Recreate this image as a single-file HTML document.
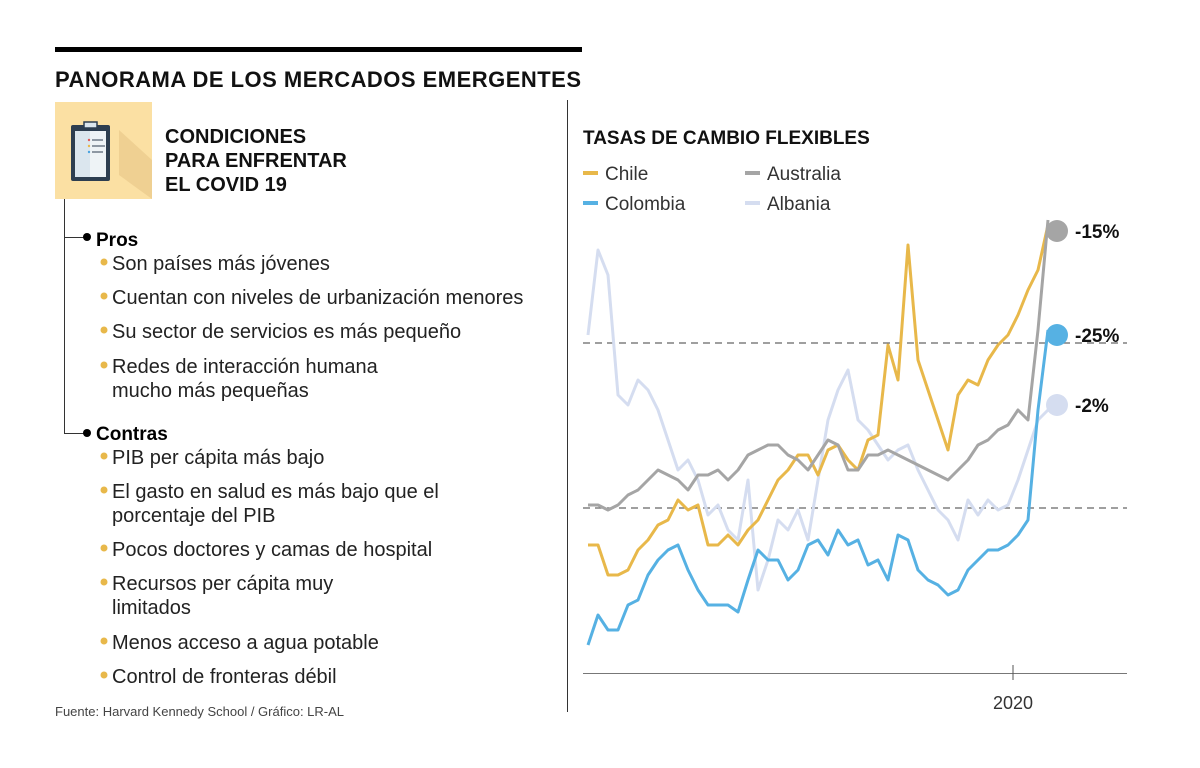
<!DOCTYPE html>
<html><head><meta charset="utf-8">
<style>
html,body{margin:0;padding:0;background:#fff;}
svg{display:block;font-family:"Liberation Sans",sans-serif;}
</style></head>
<body>
<svg id="chart" width="1200" height="768" viewBox="0 0 1200 768">
  <rect x="55" y="47" width="527" height="5" fill="#000"/>
  <text x="55" y="87" font-size="22" font-weight="bold" fill="#111" textLength="526">PANORAMA DE LOS MERCADOS EMERGENTES</text>
  <line x1="567.5" y1="100" x2="567.5" y2="712" stroke="#333" stroke-width="1"/>

  <g>
    <rect x="55" y="102" width="97" height="97" fill="#fbe0a3"/>
    <polygon points="119,175 152,199 152,160 119,130" fill="#e9c98a" opacity="0.7"/>
    <rect x="71" y="125" width="39" height="56" rx="2" fill="#2d3e50"/>
    <rect x="75" y="131" width="31" height="46" fill="#dbe6ee"/>
    <rect x="90" y="131" width="16" height="46" fill="#eef3f6"/>
    <rect x="84" y="122" width="13" height="6" fill="#dbe6ee" stroke="#2d3e50" stroke-width="1.5"/>
    <circle cx="89" cy="140" r="1.2" fill="#e05a5a"/><line x1="92" y1="140" x2="103" y2="140" stroke="#2d3e50" stroke-width="1"/>
    <circle cx="89" cy="146" r="1.2" fill="#e8b84a"/><line x1="92" y1="146" x2="105" y2="146" stroke="#2d3e50" stroke-width="1"/>
    <circle cx="89" cy="152" r="1.2" fill="#4aa3df"/><line x1="92" y1="152" x2="103" y2="152" stroke="#2d3e50" stroke-width="1"/>
  </g>
  <g font-size="20" font-weight="bold" fill="#111">
    <text x="165" y="143">CONDICIONES</text>
    <text x="165" y="167">PARA ENFRENTAR</text>
    <text x="165" y="191">EL COVID 19</text>
  </g>

  <g stroke="#333" stroke-width="1" fill="none">
    <path d="M64.5,199 V433.5 H84"/>
    <path d="M64.5,237.5 H84"/>
  </g>
  <circle cx="87" cy="237" r="4" fill="#000"/>
  <circle cx="87" cy="433" r="4" fill="#000"/>
  <text x="96" y="246" font-size="19" font-weight="bold">Pros</text>
  <text x="96" y="440" font-size="19" font-weight="bold">Contras</text>

  <g font-size="20" fill="#222">
    <circle cx="104" cy="262" r="3.5" fill="#e8b84a"/><text x="112" y="270">Son países más jóvenes</text>
    <circle cx="104" cy="296" r="3.5" fill="#e8b84a"/><text x="112" y="304">Cuentan con niveles de urbanización menores</text>
    <circle cx="104" cy="330" r="3.5" fill="#e8b84a"/><text x="112" y="338">Su sector de servicios es más pequeño</text>
    <circle cx="104" cy="365" r="3.5" fill="#e8b84a"/><text x="112" y="373">Redes de interacción humana</text>
    <text x="112" y="397">mucho más pequeñas</text>
  </g>
  <g font-size="20" fill="#222">
    <circle cx="104" cy="456" r="3.5" fill="#e8b84a"/><text x="112" y="464">PIB per cápita más bajo</text>
    <circle cx="104" cy="490" r="3.5" fill="#e8b84a"/><text x="112" y="498">El gasto en salud es más bajo que el</text>
    <text x="112" y="522">porcentaje del PIB</text>
    <circle cx="104" cy="548" r="3.5" fill="#e8b84a"/><text x="112" y="556">Pocos doctores y camas de hospital</text>
    <circle cx="104" cy="582" r="3.5" fill="#e8b84a"/><text x="112" y="590">Recursos per cápita muy</text>
    <text x="112" y="614">limitados</text>
    <circle cx="104" cy="641" r="3.5" fill="#e8b84a"/><text x="112" y="649">Menos acceso a agua potable</text>
    <circle cx="104" cy="675" r="3.5" fill="#e8b84a"/><text x="112" y="683">Control de fronteras débil</text>
  </g>
  <text x="55" y="716" font-size="13" fill="#444">Fuente: Harvard Kennedy School / Gráfico: LR-AL</text>

  <text x="583" y="144" font-size="19" font-weight="bold" fill="#111">TASAS DE CAMBIO FLEXIBLES</text>
  <g font-size="19" fill="#333">
    <g><line x1="583" y1="173" x2="598" y2="173" stroke="#e8b84a" stroke-width="4"/><text x="605" y="180">Chile</text></g>
    <g><line x1="745" y1="173" x2="760" y2="173" stroke="#a5a5a5" stroke-width="4"/><text x="767" y="180">Australia</text></g>
    <g><line x1="583" y1="203" x2="598" y2="203" stroke="#56b1e3" stroke-width="4"/><text x="605" y="210">Colombia</text></g>
    <g><line x1="745" y1="203" x2="760" y2="203" stroke="#d5ddf0" stroke-width="4"/><text x="767" y="210">Albania</text></g>
  </g>

  <g id="plot"></g>
</svg>
<script>
const chile = [125,125,95,95,100,120,130,145,150,170,160,165,125,125,135,125,140,150,170,190,200,215,215,195,220,225,210,200,230,235,325,290,425,310,280,250,220,275,290,285,310,325,335,355,380,400,445];
const colombia = [25,55,40,40,65,70,95,110,120,125,100,80,65,65,65,58,90,120,110,110,90,100,125,130,115,140,125,130,105,110,90,135,130,100,90,85,75,80,100,110,120,120,125,135,150,260,340];
const australia = [165,165,160,165,175,180,190,200,195,190,180,195,195,200,190,200,215,220,225,225,215,210,200,215,230,225,200,200,215,215,220,215,210,205,200,195,190,200,210,225,230,240,245,260,250,340,450];
const albania = [335,420,395,275,265,290,280,260,230,200,210,190,155,165,140,130,190,80,110,150,140,160,130,190,250,280,300,250,240,225,210,220,225,200,180,160,150,130,170,155,170,160,165,190,220,250,260];
const refLines = [327,162];
const endLabels = ["-15%","-25%","-2%"];
const endValues = [439,335,265];
const xTickIndex = [42.5];
const xTickLabels = ["2020"];

const NS = "http://www.w3.org/2000/svg";
const plot = document.getElementById('plot');
const X0 = 588, X1 = 1048, Y0 = 670, Y1 = 220, VMAX = 450;
const n = chile.length;
const xs = i => X0 + (X1 - X0) * i / (n - 1);
const ys = v => Y0 - (Y0 - Y1) * v / VMAX;
function mk(tag, attrs){ const e = document.createElementNS(NS, tag); for (const k in attrs) e.setAttribute(k, attrs[k]); plot.appendChild(e); return e; }

refLines.forEach(v => {
  const l = mk('line', {x1:583, x2:1127, y1:ys(v), y2:ys(v), stroke:'#666', 'stroke-width':1.2, 'stroke-dasharray':'7,5'});
  
  
});
const ax = mk('line', {x1:583, x2:1127, y1:673.5, y2:673.5, stroke:'#777', 'stroke-width':1});


xTickIndex.forEach((t, k) => {
  const tk = mk('line', {x1:xs(t), x2:xs(t), y1:665, y2:680, stroke:'#555', 'stroke-width':1});
  
  
  const tl = mk('text', {x:xs(t), y:709, 'font-size':18, fill:'#333', 'text-anchor':'middle'});
  tl.textContent = xTickLabels[k];
  
  
});
const series = [[albania,'#d5ddf0','albania'],[colombia,'#56b1e3','colombia'],[chile,'#e8b84a','chile'],[australia,'#a5a5a5','australia']];
series.forEach(([d, c, nm]) => {
  const p = mk('polyline', {points:d.map((v,i)=>xs(i).toFixed(1)+','+ys(v).toFixed(1)).join(' '), fill:'none', stroke:c, 'stroke-width':3, 'stroke-linejoin':'round'});
  
  
});
const dotColors = ['#a5a5a5','#56b1e3','#d5ddf0'];
endValues.forEach((v, k) => {
  const c = mk('circle', {cx:1057, cy:ys(v), r:11, fill:dotColors[k]});
  
  
  const t = mk('text', {x:1075, y:ys(v)+7, 'font-size':19, 'font-weight':'bold', fill:'#111'});
  t.textContent = endLabels[k];
  
  
});
</script>
</body></html>
